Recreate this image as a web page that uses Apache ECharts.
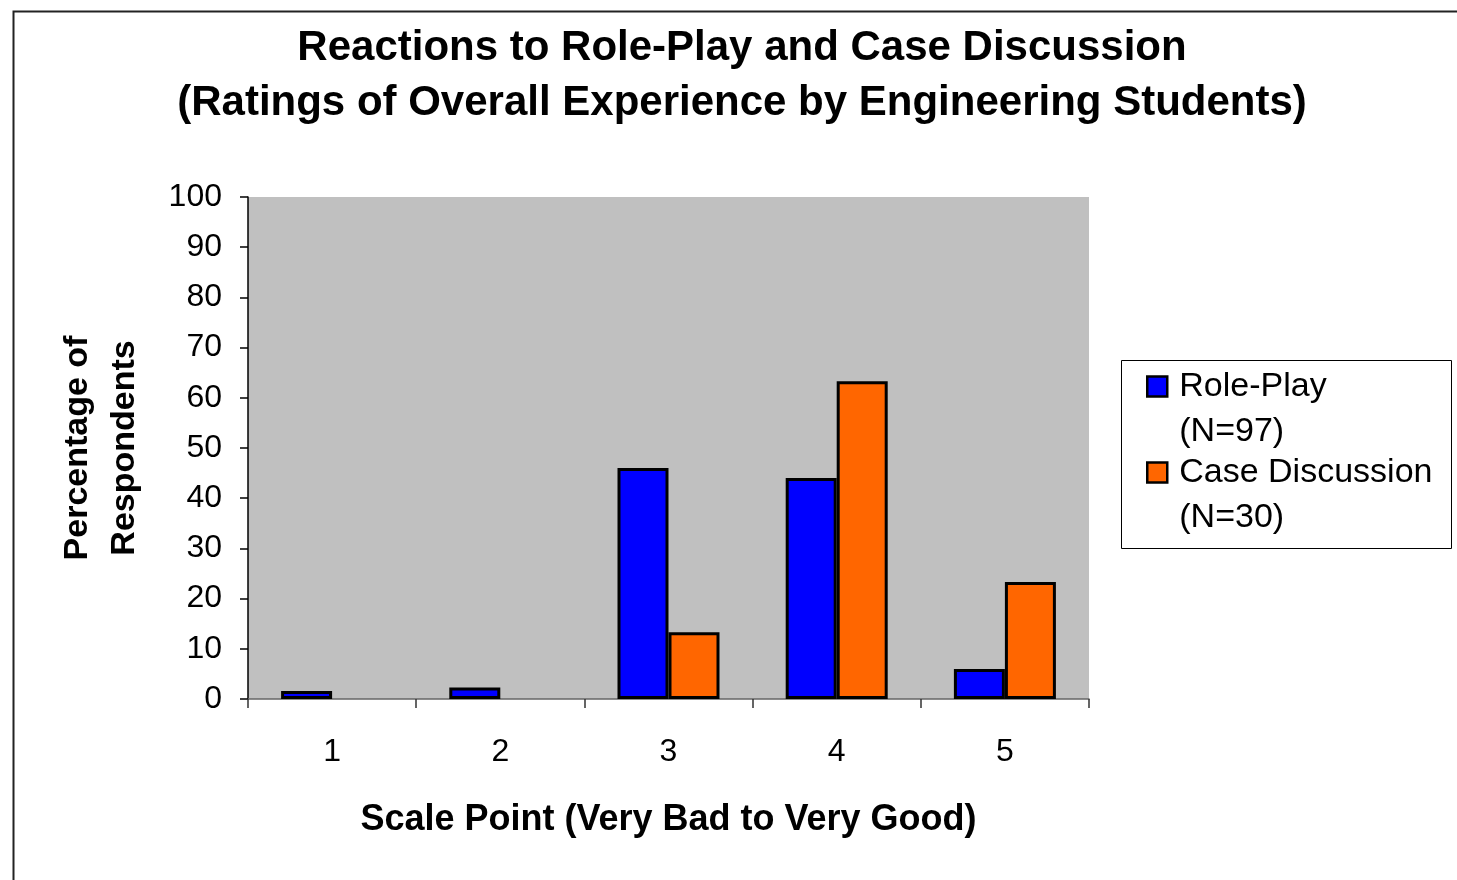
<!DOCTYPE html>
<html>
<head>
<meta charset="utf-8">
<script src="https://cdn.jsdelivr.net/npm/echarts@6/dist/echarts.min.js"></script>
<style>
  html, body { margin: 0; padding: 0; background: #fff; }
  #chart { width: 1457px; height: 880px; }
</style>
</head>
<body>
<div id="chart"></div>
<script>
const titleLines = ['Reactions to Role-Play and Case Discussion', '(Ratings of Overall Experience by Engineering Students)'];
const categories = ['1', '2', '3', '4', '5'];
const seriesNames = ['Role-Play\n(N=97)', 'Case Discussion\n(N=30)'];
const rolePlay = [1.6, 2.3, 46, 44, 6];
const caseDiscussion = [0, 0, 13.3, 63.3, 23.3];
const yTicks = { min: 0, max: 100, interval: 10 };
const xAxisName = 'Scale Point (Very Bad to Very Good)';
const yAxisName = 'Percentage of\nRespondents';

const FONT = '"Liberation Sans", Arial, sans-serif';
const chart = echarts.init(document.getElementById('chart'));

// zero values draw no bar (as in the reference)
const toBarData = arr => arr.map(v => (v === 0 ? '-' : v));

chart.setOption({
  animation: false,
  backgroundColor: '#ffffff',
  textStyle: { fontFamily: FONT },
  graphic: [
    { type: 'rect', left: 11, top: 9, shape: { width: 1500, height: 900 },
      style: { fill: 'none', stroke: '#222', lineWidth: 2 }, silent: true, z: -1 },
    { type: 'rect', left: 1121, top: 360, shape: { width: 330, height: 188 },
      style: { fill: '#fff', stroke: '#000', lineWidth: 1 }, silent: true, z: 0 }
  ],
  title: {
    text: titleLines.join('\n'),
    left: 737, top: 16, textAlign: 'center',
    textStyle: { fontFamily: FONT, fontWeight: 'bold', fontSize: 42, lineHeight: 55, color: '#000' }
  },
  legend: {
    orient: 'vertical',
    left: 1146, top: 319,
    itemWidth: 20, itemHeight: 20, itemGap: -49,
    icon: 'rect',
    padding: 0,
    itemStyle: { borderColor: '#000', borderWidth: 2.5 },
    formatter: name => ' \n' + name,
    textStyle: { fontFamily: FONT, fontSize: 34, color: '#000', lineHeight: 45, padding: [0, 0, 0, 7] },
    data: seriesNames,
    z: 5
  },
  grid: {
    left: 248, right: 368, top: 197, bottom: 181,
    show: true, backgroundColor: '#c0c0c0', borderWidth: 0
  },
  xAxis: {
    type: 'category', data: categories,
    axisLine: { lineStyle: { color: '#666', width: 1.5 } },
    axisTick: { show: true, length: 9, lineStyle: { color: '#333', width: 1.5 } },
    axisLabel: { fontSize: 32, color: '#000', margin: 37, fontFamily: FONT },
    name: xAxisName, nameLocation: 'middle', nameGap: 103,
    nameTextStyle: { fontSize: 36, fontWeight: 'bold', color: '#000', fontFamily: FONT }
  },
  yAxis: {
    type: 'value', min: yTicks.min, max: yTicks.max, interval: yTicks.interval,
    axisLine: { show: true, lineStyle: { color: '#000', width: 1.5 } },
    axisTick: { show: true, length: 8, lineStyle: { color: '#000', width: 1.5 } },
    axisLabel: { fontSize: 32, color: '#000', margin: 26, fontFamily: FONT },
    splitLine: { show: false },
    name: yAxisName, nameLocation: 'middle', nameGap: 100, nameRotate: 90,
    nameTextStyle: { fontSize: 34, fontWeight: 'bold', color: '#000', lineHeight: 47, fontFamily: FONT }
  },
  series: [
    { name: seriesNames[0], type: 'bar', data: toBarData(rolePlay), barWidth: 51, barGap: '0%',
      itemStyle: { color: '#0000ff', borderColor: '#000', borderWidth: 3 } },
    { name: seriesNames[1], type: 'bar', data: toBarData(caseDiscussion), barWidth: 51, barGap: '0%',
      itemStyle: { color: '#ff6600', borderColor: '#000', borderWidth: 3 } }
  ]
});
</script>
</body>
</html>
